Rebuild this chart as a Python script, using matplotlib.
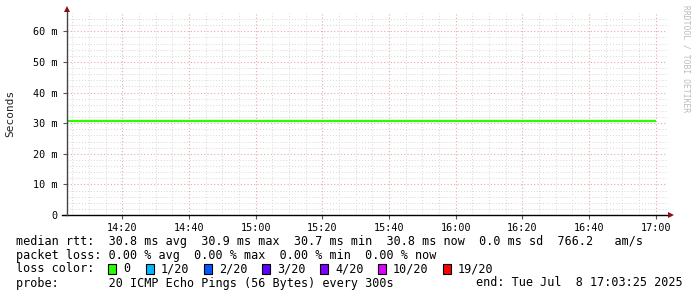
import numpy as np
import pandas as pd
import matplotlib
matplotlib.use("Agg")
import matplotlib.pyplot as plt
import matplotlib.dates as mdates
from matplotlib.patches import Rectangle

# median rtt per 5 min bin (ms), bins start 14:00 .. 16:55
bin_start = pd.date_range("2025-07-08 14:00", "2025-07-08 17:00", freq="5min")
median_ms = [30.85, 30.85, 30.85, 30.85, 30.85, 30.85, 30.85, 30.85, 30.85, 30.85,
             30.85, 30.85, 30.6, 30.6, 30.85, 30.85, 30.85, 30.85, 30.85, 30.6,
             30.85, 30.85, 30.85, 30.85, 30.85, 30.85, 30.85, 30.6, 30.85, 30.85,
             30.85, 30.85, 30.85, 30.85, 30.85, 30.85]

loss_labels = ["0", "1/20", "2/20", "3/20", "4/20", "10/20", "19/20"]
loss_colors = ["#26ff00", "#00b8ff", "#0059ff", "#5e00ff", "#7e00ff", "#dd00ff", "#ff0000"]
loss_box_x = [108, 146, 204, 262, 320, 378, 443]

rtt_line = "median rtt:  30.8 ms avg  30.9 ms max  30.7 ms min  30.8 ms now  0.0 ms sd  766.2   am/s"
loss_line = "packet loss: 0.00 % avg  0.00 % max  0.00 % min  0.00 % now"
probe_line = "probe:       20 ICMP Echo Pings (56 Bytes) every 300s"
end_line = "end: Tue Jul  8 17:03:25 2025"

W, H = 697, 297
mono = "DejaVu Sans Mono"

def fx(x):
    return x / W

def fy(y):
    return 1 - y / H

fig = plt.figure(figsize=(W / 100, H / 100), dpi=100)
fig.patch.set_facecolor("white")
ax = fig.add_axes([fx(67), fy(215), 600 / W, 202 / H])

edges = mdates.date2num(bin_start)
ax.stairs(median_ms, edges, color="#26ff00", lw=1.6, baseline=None, zorder=3)

t0 = pd.Timestamp("2025-07-08 14:03:25")
t1 = pd.Timestamp("2025-07-08 17:03:25")
ax.set_xlim(mdates.date2num(t0), mdates.date2num(t1))
ax.set_ylim(0, 66)

ax.xaxis.set_major_locator(mdates.MinuteLocator(byminute=[0, 20, 40]))
ax.xaxis.set_minor_locator(mdates.MinuteLocator(byminute=range(0, 60, 5)))
ax.xaxis.set_major_formatter(mdates.DateFormatter("%H:%M"))
ax.set_yticks(np.arange(0, 61, 10))
ax.set_yticks(np.arange(0, 66, 2), minor=True)
ax.set_yticklabels(["0"] + ["%d m" % v for v in range(10, 61, 10)])

ax.grid(which="minor", color="#d6d6d6", ls=(0, (1, 2)), lw=0.7)
ax.grid(which="major", color="#eaa8a8", ls=(0, (1, 2)), lw=0.8)
ax.set_axisbelow(True)

for s in ax.spines.values():
    s.set_visible(False)
ax.tick_params(which="both", length=0)
ax.tick_params(axis="y", which="major", length=3, color="#555555", pad=4, labelsize=7.3)
ax.tick_params(axis="x", which="major", length=3, color="#555555", pad=3, labelsize=7.3)
for lab in ax.get_xticklabels() + ax.get_yticklabels():
    lab.set_family(mono)

# axes with arrows
fig.add_artist(plt.Line2D([fx(62), fx(670)], [fy(215), fy(215)], color="black", lw=1))
fig.add_artist(plt.Line2D([fx(67), fx(67)], [fy(215), fy(10)], color="#444444", lw=1))
fig.add_artist(plt.Line2D([fx(671)], [fy(215)], marker=">", color="#8b1010", ms=4, mew=0))
fig.add_artist(plt.Line2D([fx(67)], [fy(9)], marker="^", color="#8b1010", ms=4, mew=0))

fig.text(fx(10), fy(113), "Seconds", rotation=90, ha="center", va="center",
         family=mono, fontsize=8, color="#222222")
fig.text(fx(686), fy(5), "RRDTOOL / TOBI OETIKER", rotation=270, ha="center", va="top",
         family=mono, fontsize=5.8, color="#bbbbbb")

fs = 8.5
fig.text(fx(16), fy(241), rtt_line, family=mono, fontsize=fs, va="center")
fig.text(fx(16), fy(255), loss_line, family=mono, fontsize=fs, va="center")
fig.text(fx(16), fy(269), "loss color:", family=mono, fontsize=fs, va="center")
for lab, col, bx in zip(loss_labels, loss_colors, loss_box_x):
    fig.add_artist(Rectangle((fx(bx), fy(274)), 8 / W, 10 / H, facecolor=col,
                             edgecolor="black", lw=0.8, transform=fig.transFigure))
    fig.text(fx(bx + 15), fy(269), lab, family=mono, fontsize=fs, va="center")
fig.text(fx(16), fy(283), probe_line, family=mono, fontsize=fs, va="center")
fig.text(fx(476), fy(283), end_line, family=mono, fontsize=fs, va="center")

fig.savefig("out.png", dpi=100)
